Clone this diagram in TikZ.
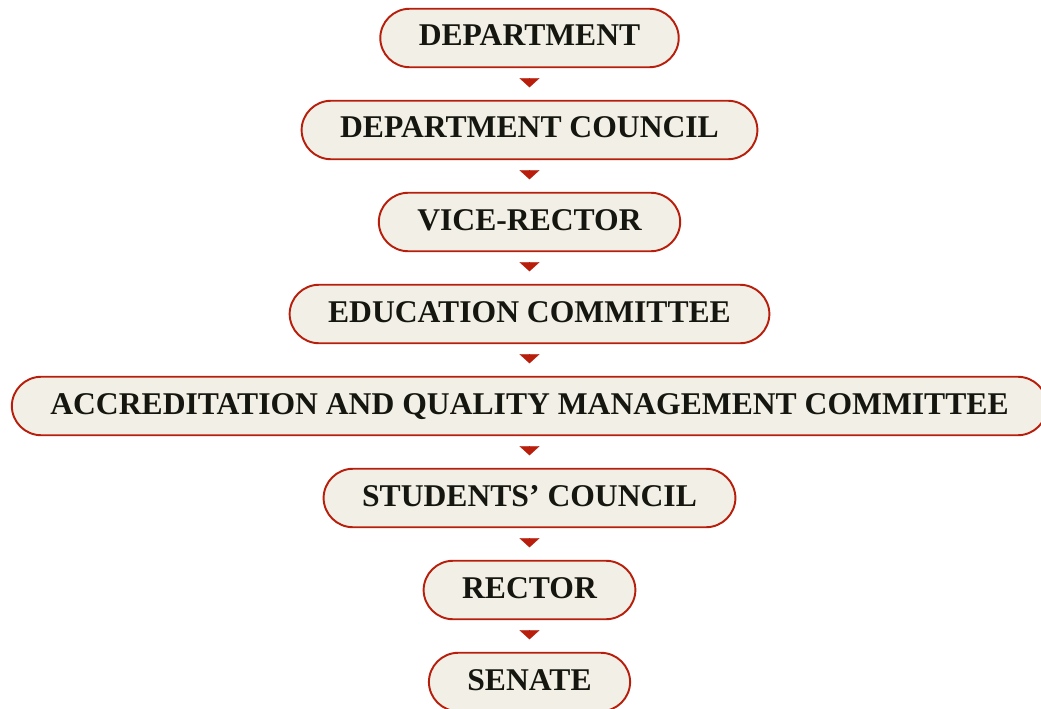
\documentclass[tikz,border=0pt]{standalone}
\usepackage{fontspec}
\setmainfont{Liberation Serif}
\usetikzlibrary{arrows.meta}
\definecolor{boxred}{RGB}{184,30,12}
\definecolor{boxfill}{RGB}{242,240,230}
\definecolor{boxtext}{RGB}{22,22,16}
\begin{document}
\begin{tikzpicture}[
    stage/.style={draw=boxred,fill=boxfill,line width=1.1pt,rounded corners=0.59cm,
      minimum height=1.17cm,inner xsep=0.77cm,inner ysep=0pt,
      text height=0.42cm,text depth=0.1cm,text=boxtext,
      font=\fontsize{18}{20}\selectfont\bfseries},
    flow/.style={draw=boxred,fill=boxred,line width=0.2pt,
      -{Triangle[width=0.4cm,length=0.18cm]},
      shorten <=0.23cm,shorten >=0.25cm}]
      \useasboundingbox (0,0) rectangle (20.82,-14.18);
      \node[stage] (dep) at (10.59,-0.76) {DEPARTMENT};
      \node[stage] (depcouncil) at (10.59,-2.60) {DEPARTMENT COUNCIL};
      \node[stage] (vicerector) at (10.59,-4.44) {VICE-RECTOR};
      \node[stage] (educomm) at (10.59,-6.28) {EDUCATION COMMITTEE};
      \node[stage] (accomm) at (10.59,-8.12) {ACCREDITATION AND QUALITY MANAGEMENT COMMITTEE};
      \node[stage] (stcouncil) at (10.59,-9.96) {STUDENTS’ COUNCIL};
      \node[stage] (rector) at (10.59,-11.80) {RECTOR};
      \node[stage] (senate) at (10.59,-13.64) {SENATE};
      \draw[flow] (dep) -- (depcouncil);
      \draw[flow] (depcouncil) -- (vicerector);
      \draw[flow] (vicerector) -- (educomm);
      \draw[flow] (educomm) -- (accomm);
      \draw[flow] (accomm) -- (stcouncil);
      \draw[flow] (stcouncil) -- (rector);
      \draw[flow] (rector) -- (senate);
    \end{tikzpicture}
\end{document}
